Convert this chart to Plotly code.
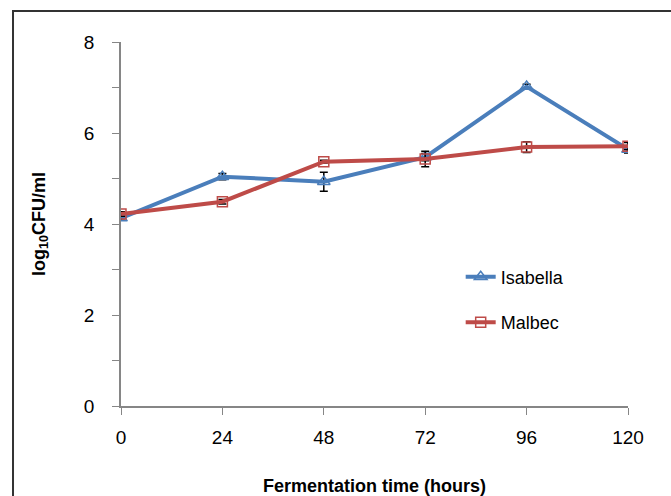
import plotly.graph_objects as go

hours = [0, 24, 48, 72, 96, 120]
isabella = [4.13, 5.04, 4.93, 5.47, 7.02, 5.64]
isabella_err = [0.05, 0.07, 0.21, 0.08, 0.05, 0.08]
malbec = [4.22, 4.49, 5.37, 5.43, 5.69, 5.71]
malbec_err = [0.05, 0.05, 0.03, 0.17, 0.12, 0.08]

blue = "#4A7EBB"
red = "#BE4B48"

fig = go.Figure()
fig.add_trace(go.Scatter(
    x=hours, y=isabella, name="Isabella", mode="lines+markers",
    line=dict(color=blue, width=4),
    marker=dict(symbol="triangle-up-open", size=11, color=blue, line=dict(width=1.5, color=blue)),
    error_y=dict(type="data", array=isabella_err, color="black", thickness=1.5, width=4),
    legendgroup="a",
))
fig.add_trace(go.Scatter(
    x=hours, y=malbec, name="Malbec", mode="lines+markers",
    line=dict(color=red, width=4),
    marker=dict(symbol="square-open", size=10, color=red, line=dict(width=1.5, color=red)),
    error_y=dict(type="data", array=malbec_err, color="black", thickness=1.5, width=4),
    legendgroup="b",
))

fig.update_layout(
    width=671, height=496,
    margin=dict(l=121, r=43, t=42, b=90, autoexpand=False),
    paper_bgcolor="white", plot_bgcolor="white",
    font=dict(family="Liberation Sans, Arial, sans-serif", size=19, color="black"),
    showlegend=True,
    legend=dict(x=0.67, y=0.405, xanchor="left", yanchor="top",
                bgcolor="rgba(0,0,0,0)", tracegroupgap=19,
                font=dict(size=18)),
    xaxis=dict(
        range=[0, 120], tickvals=hours, ticks="outside", ticklen=7,
        tickcolor="#868686", showline=True, linecolor="#868686", linewidth=1.5,
        showgrid=False, zeroline=False, ticklabelstandoff=6, automargin=False,
        title=dict(text="<b>Fermentation time (hours)</b>", standoff=36,
                   font=dict(size=18)),
    ),
    yaxis=dict(
        range=[0, 8], tickvals=[0, 2, 4, 6, 8],
        ticks="outside", ticklen=7, tickcolor="#868686",
        minor=dict(tickvals=[1, 3, 5, 7], ticks="outside", ticklen=7,
                   tickcolor="#868686", showgrid=False),
        showline=True, linecolor="#868686", linewidth=1.5,
        showgrid=False, zeroline=False, ticklabelstandoff=14, automargin=False,
        title=dict(text="<b>log<sub>10</sub>CFU/ml</b>", standoff=34,
                   font=dict(size=18)),
    ),
    shapes=[dict(type="rect", xref="paper", yref="paper",
                 x0=-0.213, x1=1.3, y0=-0.6, y1=1.085,
                 line=dict(color="#333333", width=2), layer="below")],
)

fig.write_html("out.html")
